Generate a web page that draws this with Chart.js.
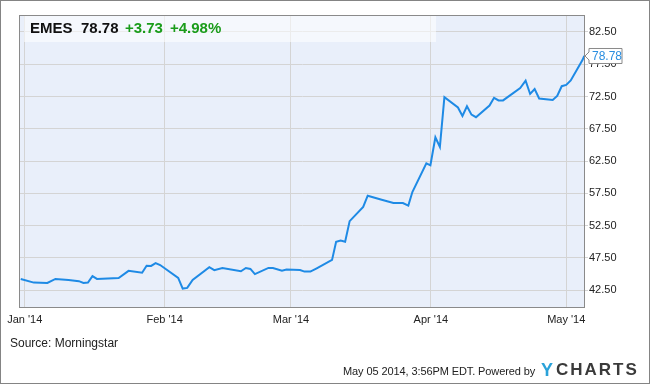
<!DOCTYPE html>
<html>
<head>
<meta charset="utf-8">
<script src="https://cdn.jsdelivr.net/npm/chart.js@4"></script>
<style>
  body { margin: 0; background: #fff; }
  #wrap { position: relative; width: 650px; height: 384px; box-sizing: border-box; border: 1px solid #848484; overflow: hidden; font-family: "Liberation Sans", Arial, sans-serif; }
  #c { position: absolute; left: -1px; top: -1px; }
  .t { position: absolute; white-space: nowrap; }
  .hd { font-weight: bold; font-size: 15px; line-height: 17px; top: 18px; }
  .green { color: #1a9c1a; }
</style>
</head>
<body>
<div id="wrap">
  <canvas id="c" width="650" height="384"></canvas>
  <span class="t hd" style="left:29px;color:#111">EMES</span>
  <span class="t hd" style="left:80px;color:#111">78.78</span>
  <span class="t hd green" style="left:124px">+3.73</span>
  <span class="t hd green" style="left:169px">+4.98%</span>
  <span class="t" style="left:9px;top:335px;font-size:12px;line-height:14px;color:#222">Source: Morningstar</span>
  <span class="t" style="left:342px;top:363px;font-size:11px;line-height:14px;color:#222;letter-spacing:-0.1px">May 05 2014, 3:56PM EDT. Powered by</span>
  <span class="t" style="left:540px;top:359px;font-size:18px;line-height:20px;font-weight:bold;color:#2aa2d9">Y</span>
  <span class="t" style="left:555px;top:359px;font-size:17px;line-height:20px;font-weight:bold;letter-spacing:2px;color:#3a3a3a">CHARTS</span>
</div>
<script>
// dias desde 1 jan 2014 e fechamento
const days = [-0.9, 2, 5, 6.8, 9.7, 12, 13, 14, 15, 16, 20.8, 23, 26, 27, 28, 29, 30,
  34, 35, 36, 37.2, 40.9, 42, 43.8, 47.9, 49, 50, 51, 54, 55, 57, 58, 61, 62, 63.3, 64.7,
  68.1, 69, 70, 71, 72, 75, 76, 79.1, 81.7, 83.8, 85, 85.9, 89, 89.9, 91, 92, 93,
  96, 97, 98, 99, 100, 103, 104, 105, 106, 109.8, 111, 112, 113, 114, 117, 118,
  119, 120, 121, 123.6, 124];
const prices = [44.25, 43.68, 43.63, 44.25, 44.1, 43.9, 43.63, 43.7, 44.67, 44.25, 44.4, 45.5, 45.2, 46.3, 46.26, 46.7, 46.4,
  44.4, 42.75, 42.86, 44.1, 46.06, 45.6, 45.95, 45.44, 45.95, 45.8, 45.0, 45.95, 45.95, 45.53, 45.7, 45.64, 45.38, 45.38, 45.9,
  47.2, 50.0, 50.2, 50.0, 53.2, 55.4, 57.14, 56.5, 56.0, 56.0, 55.6, 57.7, 62.16, 61.85, 66.2, 64.7, 72.4,
  70.8, 69.5, 71.0, 69.7, 69.3, 71.1, 72.3, 71.9, 71.9, 73.8, 74.95, 72.9, 73.66, 72.2, 71.96, 72.6,
  74.1, 74.3, 75.0, 78.15, 78.78];
const monthDays = [0, 31, 59, 90, 120];
const monthLabels = ["Jan '14", "Feb '14", "Mar '14", "Apr '14", "May '14"];
const priceTicks = [42.5, 47.5, 52.5, 57.5, 62.5, 67.5, 72.5, 77.5, 82.5];
const lastLabel = '78.78';

const plotBg = {
  id: 'plotBg',
  beforeDraw(chart) {
    const a = chart.chartArea, ctx = chart.ctx;
    ctx.save();
    ctx.fillStyle = '#e9effa';
    ctx.fillRect(a.left, a.top, a.right - a.left, a.bottom - a.top);
    ctx.restore();
  },
  beforeDatasetsDraw(chart) {
    const a = chart.chartArea, ctx = chart.ctx;
    ctx.save();
    ctx.fillStyle = 'rgba(255,255,255,0.55)';
    ctx.fillRect(a.left + 4, a.top + 1, 412, 26);
    ctx.restore();
  },
  afterDraw(chart) {
    const a = chart.chartArea, ctx = chart.ctx;
    ctx.save();
    ctx.strokeStyle = '#8a8a8a';
    ctx.lineWidth = 1;
    ctx.strokeRect(Math.round(a.left) - 0.5, Math.round(a.top) + 0.5, Math.round(a.right - a.left), Math.round(a.bottom - a.top));
    // etiqueta do ultimo valor
    const y = chart.scales.y.getPixelForValue(prices[prices.length - 1]);
    const x0 = a.right + 4;
    ctx.fillStyle = '#fff';
    ctx.strokeStyle = '#8a8a8a';
    ctx.beginPath();
    ctx.moveTo(a.right, y);
    ctx.lineTo(x0, y - 4);
    ctx.lineTo(x0, y - 7.5);
    ctx.lineTo(x0 + 33, y - 7.5);
    ctx.lineTo(x0 + 33, y + 7.5);
    ctx.lineTo(x0, y + 7.5);
    ctx.lineTo(x0, y + 4);
    ctx.closePath();
    ctx.fill();
    ctx.stroke();
    ctx.fillStyle = '#2a8ee0';
    ctx.font = '12px "Liberation Sans", Arial, sans-serif';
    ctx.textBaseline = 'middle';
    ctx.fillText(lastLabel, x0 + 3, y + 0.5);
    ctx.restore();
  }
};

const chart = new Chart(document.getElementById('c'), {
  type: 'line',
  data: {
    datasets: [{
      data: days.map((d, i) => ({ x: d, y: prices[i] })),
      borderColor: 'rgb(30,138,229)',
      borderWidth: 2,
      pointRadius: 0,
      fill: false,
      tension: 0
    }]
  },
  options: {
    responsive: false,
    animation: false,
    events: [],
    layout: { padding: { left: 20, top: 15, right: 0, bottom: 0 } },
    plugins: { legend: { display: false }, tooltip: { enabled: false } },
    scales: {
      x: {
        type: 'linear',
        min: -1.06,
        max: 124.16,
        afterBuildTicks: s => { s.ticks = monthDays.map(v => ({ value: v })); },
        afterFit: s => { s.height = 77; },
        grid: { color: '#d4d4d4', drawTicks: false },
        border: { display: false },
        ticks: {
          callback: v => monthLabels[monthDays.indexOf(v)],
          color: '#222',
          font: { family: '"Liberation Sans", Arial, sans-serif', size: 11 },
          padding: 6,
          maxRotation: 0,
          autoSkip: false
        }
      },
      y: {
        position: 'right',
        min: 39.9,
        max: 85.13,
        afterBuildTicks: s => { s.ticks = priceTicks.map(v => ({ value: v })); },
        afterFit: s => { s.width = 65; },
        grid: { color: '#d4d4d4', tickLength: 3 },
        border: { display: false },
        ticks: {
          callback: v => v.toFixed(2),
          color: '#222',
          font: { family: '"Liberation Sans", Arial, sans-serif', size: 11 },
          padding: 1
        }
      }
    }
  },
  plugins: [plotBg]
});
</script>
</body>
</html>
